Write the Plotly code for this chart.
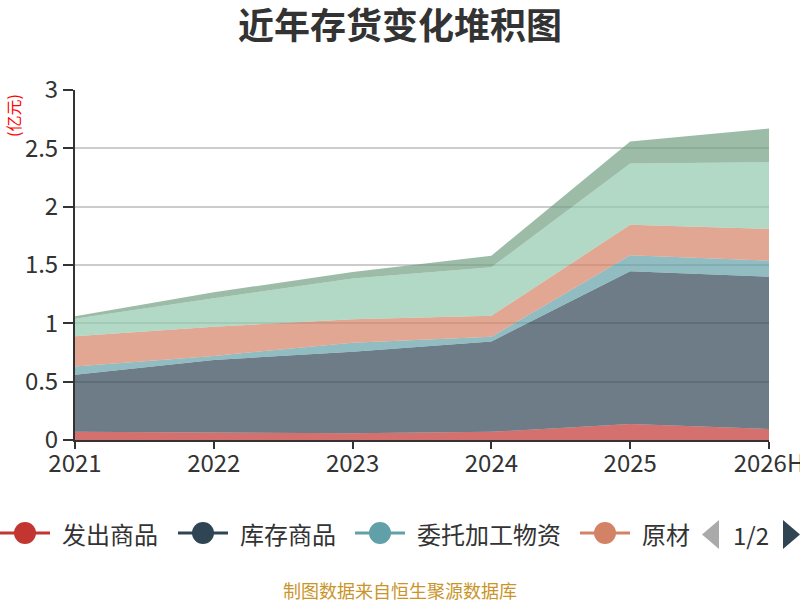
import plotly.graph_objects as go

# 近年存货构成（亿元）
years = ["2021", "2022", "2023", "2024", "2025", "2026H"]
fachu_shangpin = [0.07, 0.066, 0.057, 0.07, 0.137, 0.094]
kucun_shangpin = [0.49, 0.62, 0.70, 0.775, 1.31, 1.306]
weituo_jiagong = [0.07, 0.035, 0.077, 0.04, 0.137, 0.138]
yuancailiao = [0.26, 0.25, 0.20, 0.18, 0.26, 0.272]
zaichanpin = [0.15, 0.245, 0.35, 0.415, 0.525, 0.572]
zhouzhuan_cailiao = [0.02, 0.05, 0.057, 0.10, 0.19, 0.287]

names = ["发出商品", "库存商品", "委托加工物资", "原材料", "在产品", "周转材料"]
colors = ["#c23531", "#2f4554", "#61a0a8", "#d48265", "#91c7ae", "#749f83"]
series = [fachu_shangpin, kucun_shangpin, weituo_jiagong, yuancailiao, zaichanpin, zhouzhuan_cailiao]

# 图例第一页（原图分页 1/2，第四项被截成“原材”）
legend_labels = ["发出商品", "库存商品", "委托加工物资", "原材"]
legend_left = [0, 178, 355, 580]

font_cn = "Noto Sans CJK SC"

W, H = 800, 600
L, R, T, B = 75, 31, 90, 160
plot_w = W - L - R
plot_h = H - T - B


def px_x(p):
    return (p - L) / plot_w


def px_y(p):
    return (H - B - p) / plot_h


def rgba(hex_color, a):
    h = hex_color.lstrip("#")
    r, g, b = int(h[0:2], 16), int(h[2:4], 16), int(h[4:6], 16)
    return f"rgba({r},{g},{b},{a})"


fig = go.Figure()
for name, vals, c in zip(names, series, colors):
    fig.add_trace(go.Scatter(
        x=years, y=vals, name=name,
        stackgroup="one", mode="lines",
        line=dict(width=0, color=c),
        fillcolor=rgba(c, 0.7),
    ))

shapes = []
annotations = []

# 自绘图例：线 + 圆点 + 文字
leg_y = px_y(533)
for label, x0, c in zip(legend_labels, legend_left, colors):
    shapes.append(dict(type="line", xref="paper", yref="paper",
                       x0=px_x(x0), x1=px_x(x0 + 50), y0=leg_y, y1=leg_y,
                       line=dict(color=c, width=3)))
    shapes.append(dict(type="circle", xref="paper", yref="paper",
                       xsizemode="pixel", ysizemode="pixel",
                       xanchor=px_x(x0 + 25), yanchor=leg_y,
                       x0=-11, x1=11, y0=-11, y1=11,
                       fillcolor=c, line=dict(width=0)))
    annotations.append(dict(text=label, xref="paper", yref="paper",
                            x=px_x(x0 + 60), y=leg_y, xanchor="left", yanchor="middle",
                            showarrow=False, font=dict(size=24, color="#333", family=font_cn)))

# 翻页按钮
shapes.append(dict(type="path", xref="paper", yref="paper",
                   path=f"M {px_x(719)} {px_y(520)} L {px_x(719)} {px_y(549)} L {px_x(702)} {px_y(534.5)} Z",
                   fillcolor="#aaa", line=dict(width=0)))
shapes.append(dict(type="path", xref="paper", yref="paper",
                   path=f"M {px_x(783)} {px_y(520)} L {px_x(783)} {px_y(549)} L {px_x(800)} {px_y(534.5)} Z",
                   fillcolor="#2f4554", line=dict(width=0)))
annotations.append(dict(text="1/2", xref="paper", yref="paper",
                        x=px_x(751), y=px_y(534), xanchor="center", yanchor="middle",
                        showarrow=False, font=dict(size=24, color="#333", family=font_cn)))

annotations.append(dict(text="(亿元)", textangle=-90, xref="paper", yref="paper",
                        x=px_x(13), y=px_y(116), xanchor="center", yanchor="middle",
                        showarrow=False, font=dict(size=16, color="#ff0000", family=font_cn)))
annotations.append(dict(text="制图数据来自恒生聚源数据库", xref="paper", yref="paper",
                        x=px_x(400), y=px_y(590), xanchor="center", yanchor="middle",
                        showarrow=False, font=dict(size=18, color="#c9952b", family=font_cn)))

fig.update_layout(
    width=W, height=H,
    paper_bgcolor="white", plot_bgcolor="white",
    margin=dict(l=L, r=R, t=T, b=B, autoexpand=False),
    font=dict(family=font_cn, color="#333"),
    title=dict(text="<b>近年存货变化堆积图</b>", x=0.5, xanchor="center",
               y=1 - 26 / H, yanchor="middle", font=dict(size=36, color="#333", family=font_cn)),
    showlegend=False,
    xaxis=dict(
        type="category", range=[0, 5], showgrid=False,
        showline=True, linecolor="#333", linewidth=2,
        ticks="outside", ticklen=7, tickwidth=2, tickcolor="#333",
        ticklabelstandoff=-6,
        tickfont=dict(size=24, color="#333", family=font_cn),
        fixedrange=True,
    ),
    yaxis=dict(
        range=[0, 3], dtick=0.5, showgrid=True, gridcolor="#ccc", gridwidth=1.5,
        showline=True, linecolor="#333", linewidth=2,
        ticks="outside", ticklen=10, tickwidth=2, tickcolor="#333",
        tickfont=dict(size=24, color="#333", family=font_cn),
        zeroline=False,
    ),
    shapes=shapes,
    annotations=annotations,
)

# 去掉页面默认的 body 边距，让图正好铺满 800x600 窗口
fig.write_html("out.html", config={"displayModeBar": False},
               post_script="document.body.style.margin='0';")
